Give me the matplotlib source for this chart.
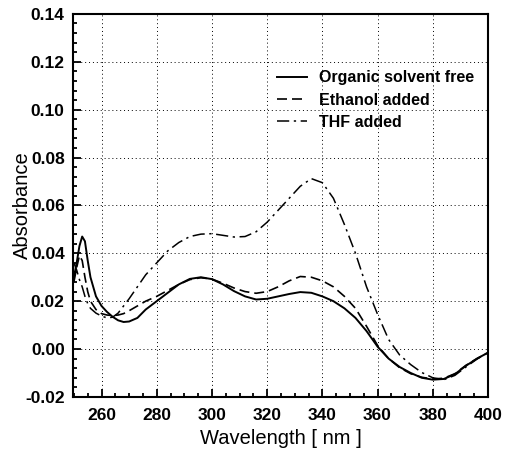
import matplotlib

matplotlib.use("Agg")
import matplotlib.pyplot as plt
from matplotlib.ticker import MultipleLocator

plt.rcParams["font.family"] = ["Liberation Sans", "DejaVu Sans"]

wavelength = [250, 251, 252, 253, 254, 255, 256, 258, 260, 262, 264, 266, 268, 270,
              273, 276, 280, 284, 288, 292, 296, 300, 304, 308, 312, 316, 320, 324,
              328, 332, 336, 340, 344, 348, 352, 356, 360, 364, 368, 372, 376, 380,
              384, 388, 392, 396, 400]

solvent_free = [0.030, 0.036, 0.043, 0.047, 0.045, 0.037, 0.030, 0.022, 0.018, 0.0155,
                0.0135, 0.012, 0.0113, 0.0115, 0.013, 0.0165, 0.020, 0.0235, 0.027,
                0.0293, 0.030, 0.0292, 0.027, 0.0242, 0.022, 0.0207, 0.021, 0.022,
                0.023, 0.0238, 0.0235, 0.022, 0.020, 0.017, 0.013, 0.0075, 0.001,
                -0.004, -0.0075, -0.010, -0.012, -0.0128, -0.0125, -0.0105, -0.007,
                -0.004, -0.0015]

ethanol = [0.028, 0.034, 0.039, 0.037, 0.030, 0.024, 0.020, 0.0165, 0.0148, 0.0142,
           0.014, 0.0142, 0.0148, 0.016, 0.018, 0.020, 0.022, 0.0245, 0.027, 0.029,
           0.0298, 0.0292, 0.0275, 0.0255, 0.024, 0.0233, 0.024, 0.026, 0.0285,
           0.0303, 0.030, 0.0285, 0.026, 0.022, 0.017, 0.0095, 0.0015, -0.004,
           -0.0078, -0.0103, -0.0118, -0.0125, -0.0122, -0.0103, -0.0068, -0.004,
           -0.0015]

thf = [0.036, 0.033, 0.029, 0.026, 0.022, 0.019, 0.017, 0.015, 0.0138, 0.013, 0.0133,
       0.015, 0.018, 0.021, 0.026, 0.031, 0.036, 0.041, 0.0445, 0.047, 0.048, 0.0482,
       0.0475, 0.0468, 0.047, 0.049, 0.053, 0.058, 0.063, 0.068, 0.0712, 0.0695,
       0.063, 0.052, 0.040, 0.026, 0.0145, 0.004, -0.0025, -0.0065, -0.0098, -0.012,
       -0.0128, -0.011, -0.0075, -0.0042, -0.0015]

fig = plt.figure(figsize=(5.11, 4.49), dpi=100)
ax = fig.add_axes([0.143, 0.116, 0.812, 0.853])

ax.plot(wavelength, solvent_free, color="black", lw=1.4, ls="-", label="Organic solvent free")
ax.plot(wavelength, ethanol, color="black", lw=1.2, ls=(0, (6, 3)), label="Ethanol added")
ax.plot(wavelength, thf, color="black", lw=1.1, ls=(0, (8, 3, 1.5, 3)), label="THF added")

ax.set_xlim(249.7, 400)
ax.set_ylim(-0.02, 0.14)
ax.xaxis.set_minor_locator(MultipleLocator(5))
ax.yaxis.set_major_locator(MultipleLocator(0.02))
ax.yaxis.set_minor_locator(MultipleLocator(0.004))
ax.set_xticks(range(260, 401, 20))
ax.yaxis.set_major_formatter(plt.FuncFormatter(lambda v, _: f"{v:.2f}"))

ax.grid(True, which="major", color="black", ls=(0, (1, 3)), lw=0.7)
ax.tick_params(which="both", direction="in", width=1.3, labelsize=12.5)
ax.tick_params(which="major", length=6)
ax.tick_params(axis="x", which="major", pad=8)
ax.tick_params(axis="y", which="major", pad=6)
ax.tick_params(which="minor", length=3)
for lab in ax.get_xticklabels() + ax.get_yticklabels():
    lab.set_fontweight("bold")
for sp in ax.spines.values():
    sp.set_linewidth(1.5)

ax.set_xlabel("Wavelength [ nm ]", fontsize=14.5, labelpad=4)
ax.set_ylabel("Absorbance", fontsize=14.5, labelpad=-5)

ax.legend(loc="upper right", bbox_to_anchor=(1.0, 0.89), frameon=False,
          prop={"weight": "bold", "size": 11.5}, handlelength=1.9, labelspacing=0.45,
          handletextpad=0.7)

fig.savefig("out.png", dpi=100)
